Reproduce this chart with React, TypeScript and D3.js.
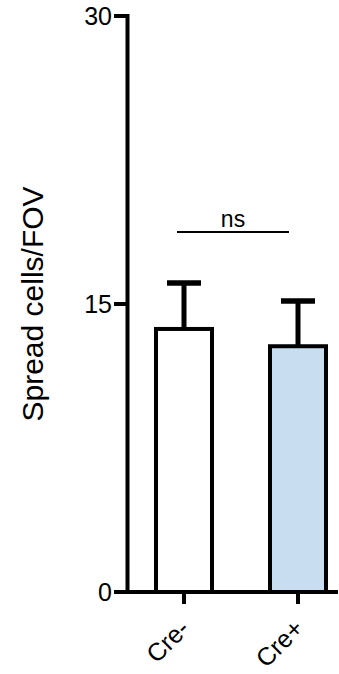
import React from "react";
import * as d3 from "d3";

const categories = ["Cre-", "Cre+"];
const means = [13.7, 12.8];
const errors = [2.4, 2.35];
const fills = ["#ffffff", "#c9ddf1"];
const yTicks = [0, 15, 30];
const yLabel = "Spread cells/FOV";
const sigLabel = "ns";

const W = 339;
const H = 674;
const FONT = "Arial, 'Liberation Sans', Helvetica, sans-serif";

export default function App() {
  const y = d3.scaleLinear().domain([0, 30]).range([592, 16]);
  const x = d3.scalePoint<string>().domain(categories).range([184, 298]);
  const axisX = 127.5;
  const barW = 56;
  const capW = 34;

  return (
    <svg
      width={W}
      height={H}
      style={{ position: "absolute", left: 0, top: 0 }}
      fontFamily={FONT}
    >
      {categories.map((c, i) => {
        const cx = x(c)!;
        const top = y(means[i]);
        const errTop = y(means[i] + errors[i]);
        return (
          <g key={c}>
            <line x1={cx} x2={cx} y1={top} y2={errTop} stroke="#000" strokeWidth={5} />
            <line x1={cx - capW / 2} x2={cx + capW / 2} y1={errTop} y2={errTop} stroke="#000" strokeWidth={5.5} />
            <rect
              x={cx - barW / 2}
              y={top}
              width={barW}
              height={y(0) - top}
              fill={fills[i]}
              stroke="#000"
              strokeWidth={4}
            />
          </g>
        );
      })}
      <line x1={axisX} x2={axisX} y1={y(30) - 2} y2={y(0) + 2} stroke="#000" strokeWidth={4} />
      {yTicks.map((t) => (
        <g key={t}>
          <line x1={114} x2={axisX} y1={y(t)} y2={y(t)} stroke="#000" strokeWidth={4} />
          <text
            x={112}
            y={y(t)}
            textAnchor="end"
            dominantBaseline="central"
            fontSize={25}
            fill="#000"
          >
            {t}
          </text>
        </g>
      ))}
      <line x1={axisX - 2} x2={338} y1={y(0)} y2={y(0)} stroke="#000" strokeWidth={4} />
      {categories.map((c) => {
        const cx = x(c)!;
        return (
          <g key={c}>
            <line x1={cx} x2={cx} y1={y(0)} y2={y(0) + 12} stroke="#000" strokeWidth={4} />
            <text
              transform={`translate(${cx + 7},${y(0) + 38}) rotate(-45)`}
              textAnchor="end"
              fontSize={25}
              fill="#000"
            >
              {c}
            </text>
          </g>
        );
      })}
      <text
        transform={`translate(43,${(y(0) + y(30)) / 2}) rotate(-90)`}
        textAnchor="middle"
        fontSize={30}
        fill="#000"
      >
        {yLabel}
      </text>
      <line x1={177} x2={289} y1={232} y2={232} stroke="#000" strokeWidth={2} />
      <text x={233} y={227} textAnchor="middle" fontSize={23} fill="#000">
        {sigLabel}
      </text>
    </svg>
  );
}
